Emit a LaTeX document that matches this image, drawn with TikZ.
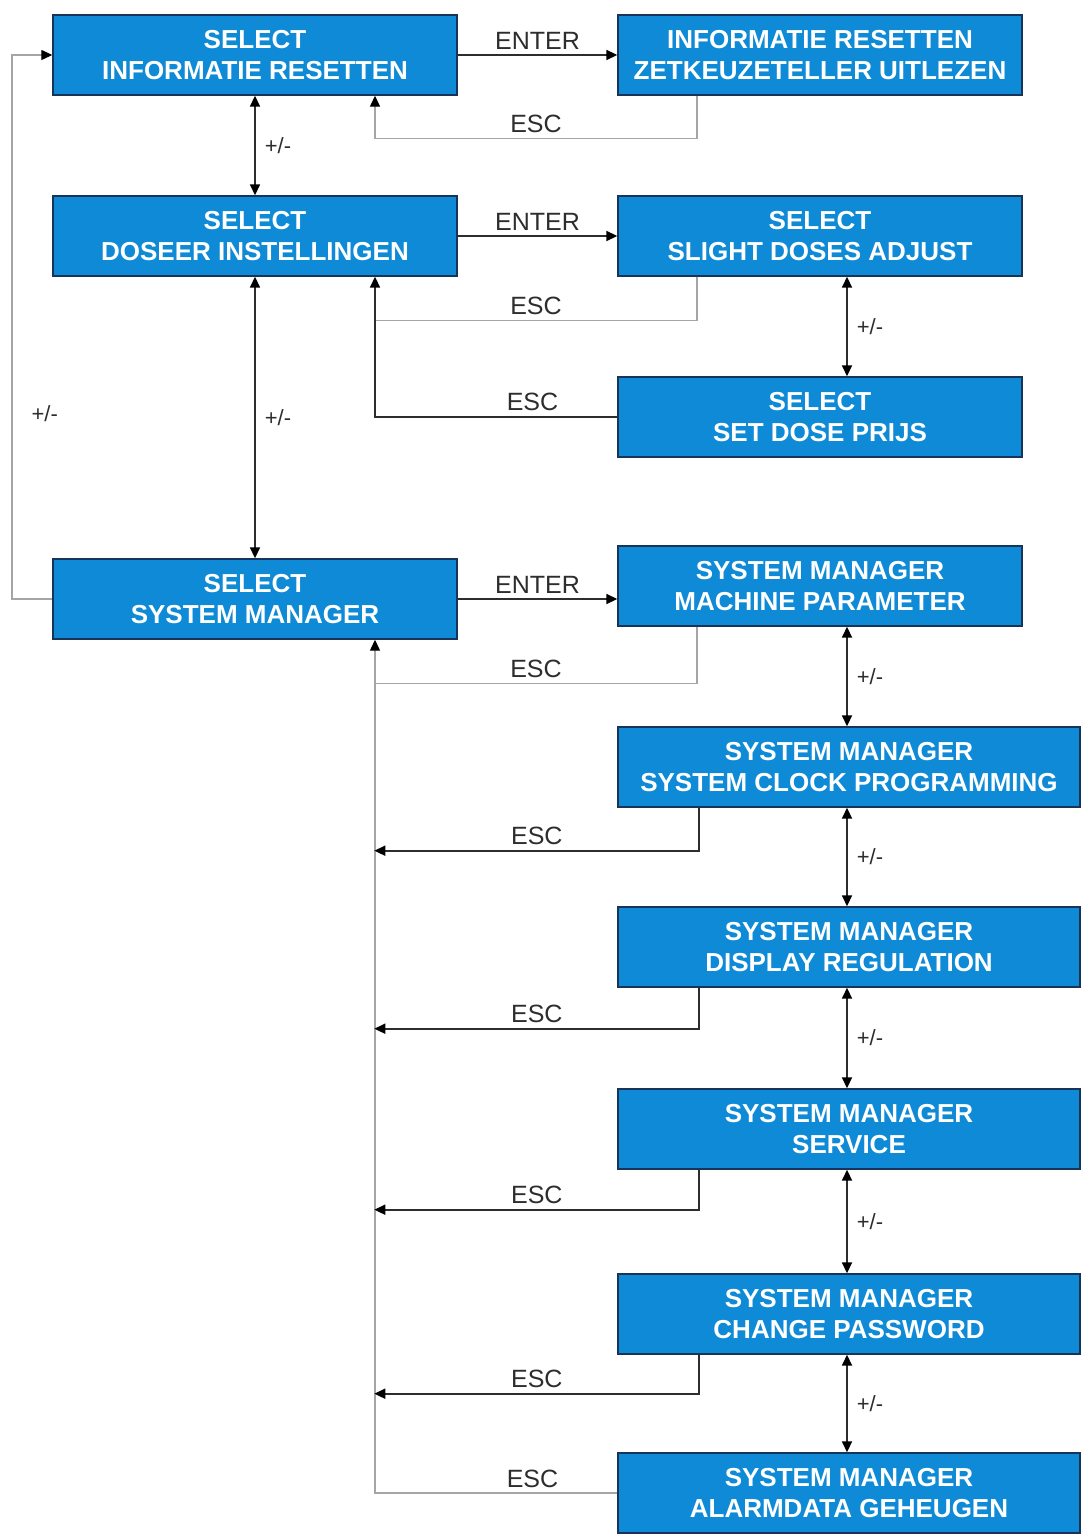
\documentclass[tikz,border=0pt]{standalone}
\usepackage{fontspec}
\setmainfont{Liberation Sans}
\usetikzlibrary{arrows.meta,positioning}
\definecolor{boxblue}{RGB}{14,138,214}
\definecolor{boxedge}{RGB}{24,52,88}
\definecolor{linedark}{RGB}{45,45,45}
\definecolor{linegrey}{RGB}{165,165,165}

\tikzset{
  menubox/.style={draw=boxedge,line width=0.7pt,fill=boxblue,text=white,
    font=\bfseries\fontsize{13}{15.6}\selectfont,align=center,
    minimum width=202pt,minimum height=40pt,inner sep=0pt},
  widebox/.style={menubox,minimum width=231pt},
  link/.style={draw=linedark,line width=0.85pt},
  back/.style={draw=linegrey,line width=0.65pt},
  tip/.style={-{Triangle[length=5.5pt,width=5pt,black]}},
  both/.style={{Triangle[length=5.5pt,width=5pt,black]}-{Triangle[length=5.5pt,width=5pt,black]}},
  keylabel/.style={font=\fontsize{12.5}{15}\selectfont,text=linedark,inner sep=2.5pt},
  pmlabel/.style={font=\fontsize{11}{13}\selectfont,text=linedark,inner sep=4.5pt}
}

\begin{document}
\begin{tikzpicture}[x=0.5pt,y=-0.5pt]
\useasboundingbox (0,0) rectangle (1090,1540);
% columns for the return lines
\coordinate (farx) at (12,0);
\coordinate (lx) at (375,0);
\coordinate (rx) at (697,0);
\coordinate (vx) at (847,0);

% left column
\node[menubox] (selinfo) at (255,55) {SELECT\\INFORMATIE RESETTEN};
\node[menubox] (seldos) at (255,236) {SELECT\\DOSEER INSTELLINGEN};
\node[menubox] (selsys) at (255,599) {SELECT\\SYSTEM MANAGER};

% right column
\node[menubox] (infozet) at (820,55) {INFORMATIE RESETTEN\\ZETKEUZETELLER UITLEZEN};
\node[menubox] (slight) at (820,236) {SELECT\\SLIGHT DOSES ADJUST};
\node[menubox] (prijs) at (820,417) {SELECT\\SET DOSE PRIJS};
\node[menubox] (machine) at (820,586) {SYSTEM MANAGER\\MACHINE PARAMETER};
\node[widebox] (clock) at (849,767) {SYSTEM MANAGER\\SYSTEM CLOCK PROGRAMMING};
\node[widebox] (display) at (849,947) {SYSTEM MANAGER\\DISPLAY REGULATION};
\node[widebox] (service) at (849,1129) {SYSTEM MANAGER\\SERVICE};
\node[widebox] (password) at (849,1314) {SYSTEM MANAGER\\CHANGE PASSWORD};
\node[widebox] (alarm) at (849,1493) {SYSTEM MANAGER\\ALARMDATA GEHEUGEN};

% enter
\draw[link,tip] (selinfo.east) -- node[keylabel,above]{ENTER} (infozet.west);
\draw[link,tip] (seldos.east) -- node[keylabel,above]{ENTER} (seldos.east -| slight.west);
\draw[link,tip] (selsys.east) -- node[keylabel,above]{ENTER} (selsys.east -| machine.west);

% +/-
\draw[link,both] (selinfo.south) -- node[pmlabel,right]{+/-} (seldos.north);
\draw[link,both] (seldos.south) -- node[pmlabel,right]{+/-} (selsys.north);
\draw[back,tip] (selsys.west) -- (selsys.west -| farx)
  -- node[pmlabel,right,pos=0.34,xshift=5pt]{+/-} (farx |- selinfo.west) -- (selinfo.west);
\draw[link,both] (slight.south -| vx) -- node[pmlabel,right]{+/-} (prijs.north -| vx);
\draw[link,both] (machine.south -| vx) -- node[pmlabel,right]{+/-} (clock.north -| vx);
\draw[link,both] (clock.south -| vx) -- node[pmlabel,right]{+/-} (display.north -| vx);
\draw[link,both] (display.south -| vx) -- node[pmlabel,right]{+/-} (service.north -| vx);
\draw[link,both] (service.south -| vx) -- node[pmlabel,right]{+/-} (password.north -| vx);
\draw[link,both] (password.south -| vx) -- node[pmlabel,right]{+/-} (alarm.north -| vx);

% esc
\draw[back,tip] (infozet.south -| rx) -- ++(0,43) -- node[keylabel,above]{ESC} ++(-322,0)
  -- (selinfo.south -| lx);
\draw[back] (slight.south -| rx) -- ++(0,44) -- node[keylabel,above]{ESC} ++(-322,0);
\draw[link,tip] (prijs.west) -- node[keylabel,above,pos=0.35]{ESC} (prijs.west -| lx)
  -- (seldos.south -| lx);
\draw[back] (machine.south -| rx) -- ++(0,57) -- node[keylabel,above]{ESC} ++(-322,0);
\draw[back,tip] (alarm.west) -- node[keylabel,above,pos=0.35]{ESC} (alarm.west -| lx)
  -- (selsys.south -| lx);
\draw[link,tip] ([xshift=41pt]clock.south west) -- ++(0,43) -- node[keylabel,above]{ESC} ++(-325,0);
\draw[link,tip] ([xshift=41pt]display.south west) -- ++(0,41) -- node[keylabel,above]{ESC} ++(-325,0);
\draw[link,tip] ([xshift=41pt]service.south west) -- ++(0,40) -- node[keylabel,above]{ESC} ++(-325,0);
\draw[link,tip] ([xshift=41pt]password.south west) -- ++(0,39) -- node[keylabel,above]{ESC} ++(-325,0);
\end{tikzpicture}
\end{document}
